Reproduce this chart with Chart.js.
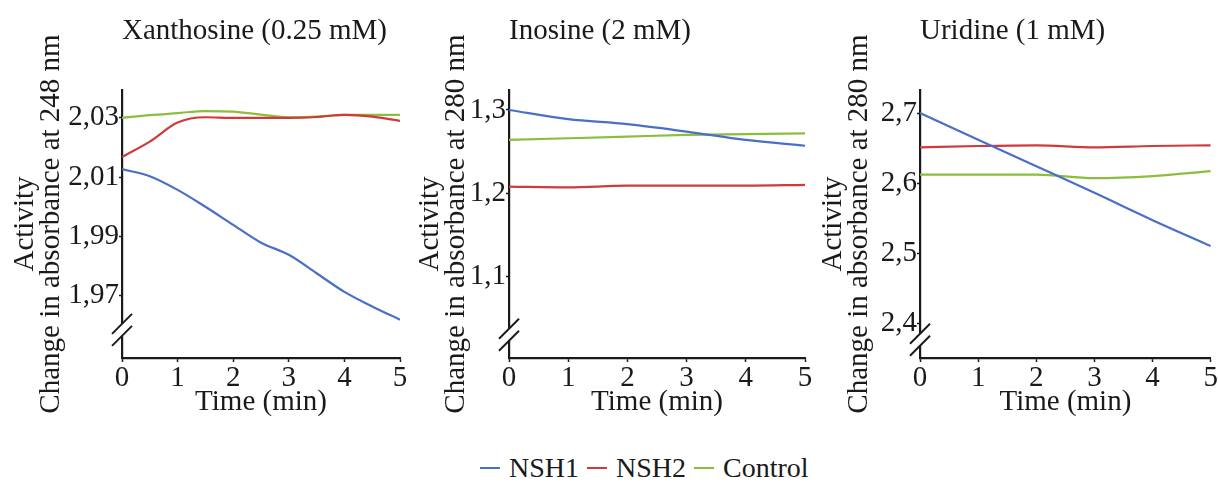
<!DOCTYPE html>
<html>
<head>
<meta charset="utf-8">
<script src="https://cdn.jsdelivr.net/npm/chart.js@4.4.0/dist/chart.umd.min.js"></script>
<style>
  body { margin: 0; background: #fff; width: 1218px; height: 482px; position: relative; overflow: hidden; font-family: 'Liberation Serif', serif; }
  canvas { position: absolute; top: 0; }
  #legend { position: absolute; top: 452px; left: 480px; display: flex; align-items: center; font-size: 28px; line-height: 32px; color: #1a1a1a; white-space: nowrap; }
  #legend .item { display: flex; align-items: center; margin-right: 8px; }
  #legend .dash { display: inline-block; width: 20px; height: 2px; margin-right: 9px; }
</style>
</head>
<body>
<canvas id="xan" width="410" height="420" style="left:0px"></canvas>
<canvas id="ino" width="410" height="420" style="left:405px"></canvas>
<canvas id="uri" width="410" height="420" style="left:808px"></canvas>
<div id="legend"></div>
<script>
// series and time points
const seriesNames = ['NSH1', 'NSH2', 'Control'];
const timeFine = [0, 0.5, 1, 1.5, 2, 2.5, 3, 3.5, 4, 4.5, 5];
const timeCoarse = [0, 1, 2, 3, 4, 5];
const xTicks = [0, 1, 2, 3, 4, 5];

// Xanthosine (0.25 mM), A248
const xanNSH1 = [2.0127, 2.0103, 2.0057, 2.0000, 1.9939, 1.9879, 1.9838, 1.9776, 1.9713, 1.9664, 1.9619];
const xanNSH2 = [2.0168, 2.0220, 2.0284, 2.0302, 2.0300, 2.0300, 2.0300, 2.0303, 2.0310, 2.0304, 2.0290];
const xanControl = [2.0300, 2.0309, 2.0316, 2.0323, 2.0321, 2.0311, 2.0302, 2.0304, 2.0310, 2.0310, 2.0310];
const xanYTicks = [1.97, 1.99, 2.01, 2.03];

// Inosine (2 mM), A280
const inoNSH1 = [1.300, 1.289, 1.283, 1.274, 1.264, 1.257];
const inoNSH2 = [1.208, 1.207, 1.209, 1.209, 1.209, 1.210];
const inoControl = [1.264, 1.266, 1.268, 1.270, 1.271, 1.272];
const inoYTicks = [1.1, 1.2, 1.3];

// Uridine (1 mM), A280
const uriNSH1 = [2.700, 2.662, 2.624, 2.586, 2.547, 2.510];
const uriNSH2 = [2.651, 2.653, 2.654, 2.651, 2.653, 2.654];
const uriControl = [2.612, 2.612, 2.612, 2.607, 2.610, 2.617];
const uriYTicks = [2.4, 2.5, 2.6, 2.7];

const seriesColors = ['#4a6fc6', '#cf3a3a', '#8cbd3c'];
const ink = '#1a1a1a';
const serif = "'Liberation Serif', 'Times New Roman', serif";
const fontSize = 29;

// draws the "//" break on the y axis
const axisBreak = {
  id: 'axisBreak',
  afterDraw(chart, args, opts) {
    const ctx = chart.ctx;
    const x = chart.chartArea.left;
    const y = chart.scales.y.getPixelForValue(opts.value);
    ctx.save();
    ctx.fillStyle = '#fff';
    ctx.fillRect(x - 3, y - 6, 6, 12);
    ctx.strokeStyle = ink;
    ctx.lineWidth = 2;
    [-6, 6].forEach(d => {
      ctx.beginPath();
      ctx.moveTo(x - 10, y + d + 10);
      ctx.lineTo(x + 10, y + d - 10);
      ctx.stroke();
    });
    ctx.restore();
  }
};

function makePanel(id, p) {
  const ctx = document.getElementById(id).getContext('2d');
  return new Chart(ctx, {
    type: 'line',
    data: {
      datasets: p.series.map((vals, i) => ({
        label: seriesNames[i],
        data: p.time.map((t, j) => ({ x: t, y: vals[j] })),
        borderColor: seriesColors[i],
        borderWidth: 2.2,
        pointRadius: 0,
        fill: false,
        cubicInterpolationMode: 'monotone'
      }))
    },
    options: {
      responsive: false,
      animation: false,
      devicePixelRatio: 1,
      layout: { padding: { left: 0, right: p.padRight, top: 0, bottom: 0 } },
      plugins: {
        legend: { display: false },
        tooltip: { enabled: false },
        title: {
          display: true, text: p.title, align: 'start', fullSize: false, color: ink,
          font: { family: serif, size: fontSize, weight: 'normal', lineHeight: 1 },
          padding: { top: 17, bottom: 44 }
        },
        axisBreak: { value: p.breakAt }
      },
      scales: {
        x: {
          type: 'linear', min: 0, max: 5,
          afterBuildTicks: s => { s.ticks = xTicks.map(v => ({ value: v })); },
          afterFit: s => { s.height = 62; },
          grid: { drawOnChartArea: false, tickLength: 4, color: ink, tickWidth: 1.5 },
          border: { color: ink, width: 2.2 },
          ticks: { color: ink, padding: 0, maxRotation: 0, font: { family: serif, size: fontSize, lineHeight: 1.1 } },
          title: { display: true, text: 'Time (min)', color: ink, font: { family: serif, size: fontSize, lineHeight: 1 }, padding: { top: 0, bottom: 3 } }
        },
        y: {
          min: p.yMin, max: p.yMax,
          afterBuildTicks: s => { s.ticks = p.yTicks.map(v => ({ value: v })); },
          afterFit: s => { s.width = p.yWidth; },
          grid: { drawOnChartArea: false, tickLength: 3, color: ink, tickWidth: 1.5 },
          border: { color: ink, width: 2.2 },
          ticks: {
            color: ink, padding: 0, font: { family: serif, size: fontSize },
            callback: v => v.toFixed(p.dec).replace('.', ',')
          },
          title: {
            display: true, text: ['Activity', p.yTitle], color: ink,
            font: { family: serif, size: fontSize, lineHeight: 0.9 }, padding: { top: 12, bottom: 0 }
          }
        }
      }
    },
    plugins: [axisBreak]
  });
}

makePanel('xan', {
  title: 'Xanthosine (0.25 mM)', yTitle: 'Change in absorbance at 248 nm',
  time: timeFine, series: [xanNSH1, xanNSH2, xanControl],
  yMin: 1.949, yMax: 2.0394, yTicks: xanYTicks, dec: 2, breakAt: 1.9585,
  yWidth: 122, padRight: 10
});
makePanel('ino', {
  title: 'Inosine (2 mM)', yTitle: 'Change in absorbance at 280 nm',
  time: timeCoarse, series: [inoNSH1, inoNSH2, inoControl],
  yMin: 1.002, yMax: 1.324, yTicks: inoYTicks, dec: 1, breakAt: 1.03,
  yWidth: 104, padRight: 10
});
makePanel('uri', {
  title: 'Uridine (1 mM)', yTitle: 'Change in absorbance at 280 nm',
  time: timeCoarse, series: [uriNSH1, uriNSH2, uriControl],
  yMin: 2.35, yMax: 2.733, yTicks: uriYTicks, dec: 1, breakAt: 2.376,
  yWidth: 112, padRight: 5
});

// shared legend under the panels
const legend = document.getElementById('legend');
seriesNames.forEach((name, i) => {
  const item = document.createElement('span');
  item.className = 'item';
  item.innerHTML = '<span class="dash" style="background:' + seriesColors[i] + '"></span>' + name;
  legend.appendChild(item);
});
</script>
</body>
</html>
